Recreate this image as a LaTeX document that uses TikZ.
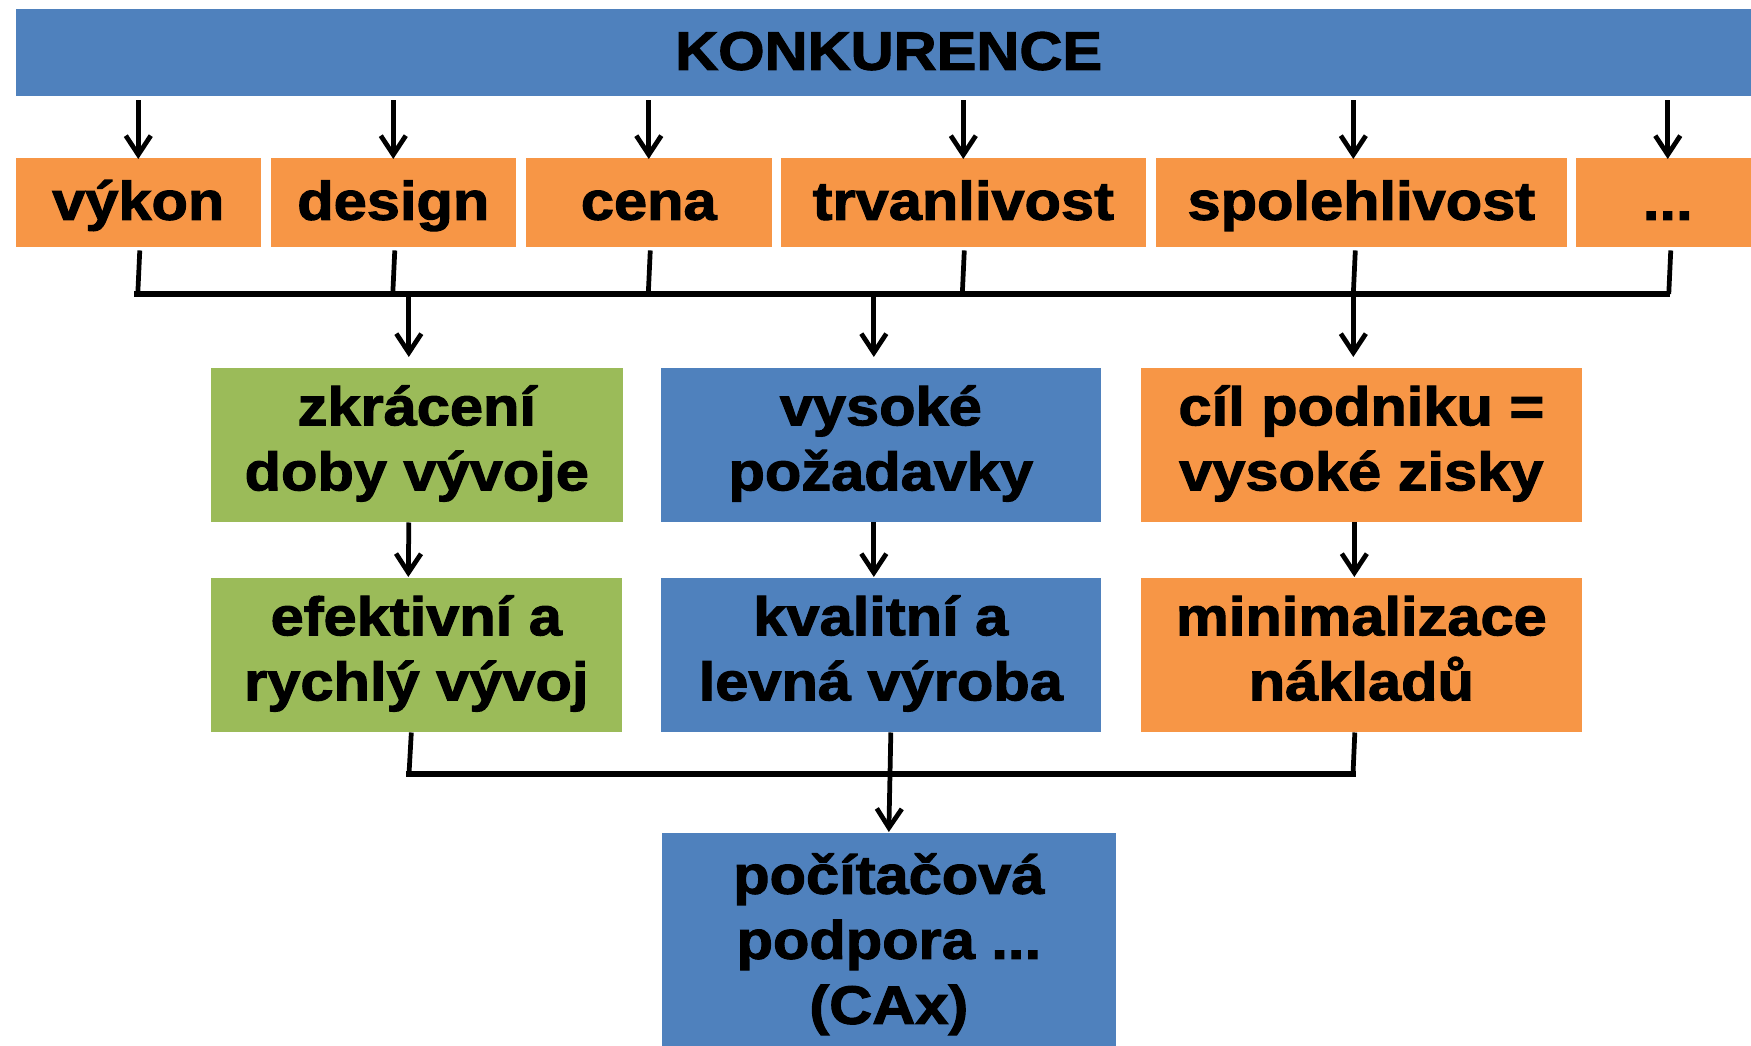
\documentclass[tikz,border=0pt]{standalone}
\usepackage{fontspec}
\setmainfont{Liberation Sans}
\newfontfamily\heavyfont{Liberation Sans Bold}[FakeStretch=1.10,FakeBold=2]
\usetikzlibrary{arrows.meta}
\definecolor{cblue}{HTML}{4F81BD}
\definecolor{corange}{HTML}{F79646}
\definecolor{cgreen}{HTML}{9BBB59}
\begin{document}
\begin{tikzpicture}[x=0.01cm,y=-0.01cm,
  box/.style={anchor=north west,inner sep=0pt,draw=none,align=center,
    font=\heavyfont\fontsize{15.4}{18.5}\selectfont},
  oneline/.style={box,text height=0.45cm,text depth=0.10cm},
  ln/.style={line width=1.35pt,black},
  busln/.style={line width=1.6pt,black},
  arr/.style={ln,-{Straight Barb[length=1.9mm,width=2.5mm,line width=1.35pt]}}]
\useasboundingbox (0,0) rectangle (1751,1046);
% top bar
\node[oneline,fill=cblue,minimum width=17.45cm,minimum height=0.87cm] (konk) at (15,8) {KONKURENCE};
% top row
\node[oneline,fill=corange,minimum width=2.45cm,minimum height=0.89cm] (vykon) at (15,157) {výkon};
\node[oneline,fill=corange,minimum width=2.45cm,minimum height=0.89cm] (design) at (270,157) {design};
\node[oneline,fill=corange,minimum width=2.46cm,minimum height=0.89cm] (cena) at (525,157) {cena};
\node[oneline,fill=corange,minimum width=3.65cm,minimum height=0.89cm] (trvan) at (780,157) {trvanlivost};
\node[oneline,fill=corange,minimum width=4.11cm,minimum height=0.89cm] (spol) at (1155,157) {spolehlivost};
\node[oneline,fill=corange,minimum width=1.84cm,minimum height=0.89cm] (dots) at (1575,157) {...};
% row 1
\node[box,fill=cgreen,minimum width=4.12cm,minimum height=1.54cm] (zkr) at (210,367) {\strut zkrácení\\\strut doby vývoje};
\node[box,fill=cblue,minimum width=4.40cm,minimum height=1.54cm] (vys) at (660,367) {\strut vysoké\\\strut požadavky};
\node[box,fill=corange,minimum width=4.41cm,minimum height=1.54cm] (cil) at (1140,367) {\strut cíl podniku =\\\strut vysoké zisky};
% row 2
\node[box,fill=cgreen,minimum width=4.11cm,minimum height=1.54cm] (efe) at (210,577) {\strut efektivní a\\\strut rychlý vývoj};
\node[box,fill=cblue,minimum width=4.40cm,minimum height=1.54cm] (kva) at (660,577) {\strut kvalitní a\\\strut levná výroba};
\node[box,fill=corange,minimum width=4.41cm,minimum height=1.54cm] (mini) at (1140,577) {\strut minimalizace\\\strut nákladů};
% bottom
\node[box,fill=cblue,minimum width=4.54cm,minimum height=2.26cm] (poc) at (661,832) {\strut počítačová\\\strut podpora ...\\\strut (CAx)};
% arrows from bar to top row
\foreach \n/\dx in {vykon/0,design/0,cena/0,trvan/0,spol/-0.08,dots/0}
  \draw[arr] ([xshift=\dx cm,yshift=-0.04cm]konk.south -| \n.north) -- ([xshift=\dx cm,yshift=-0.02cm]\n.north);
% bus 1
\coordinate (busL) at (137,294);
\coordinate (busR) at (1667,294);
\foreach \n/\dx in {vykon/0.015,design/0.015,cena/0.015,trvan/0.01,spol/-0.06,dots/0.03}
  \draw[ln] ([xshift=\dx cm,yshift=-0.03cm]\n.south) -- ([xshift=\dx cm-0.02cm]\n.south |- busL);
\draw[busln,line cap=rect] (busL) -- (busR);
\draw[arr] ([xshift=-0.08cm]zkr.north |- busL) -- ([xshift=-0.08cm,yshift=0.1cm]zkr.north);
\draw[arr] ([xshift=-0.07cm]vys.north |- busL) -- ([xshift=-0.07cm,yshift=0.1cm]vys.north);
\draw[arr] ([xshift=-0.08cm]cil.north |- busL) -- ([xshift=-0.08cm,yshift=0.1cm]cil.north);
% row1 -> row2
\draw[arr] ([xshift=-0.08cm]zkr.south) -- ([xshift=-0.08cm]efe.north);
\draw[arr] ([xshift=-0.07cm]vys.south) -- ([xshift=-0.07cm]kva.north);
\draw[arr] ([xshift=-0.07cm]cil.south) -- ([xshift=-0.07cm]mini.north);
% bus 2
\coordinate (bL) at (409,774);
\coordinate (bR) at (1353,774);
\draw[ln] ([xshift=-0.05cm]efe.south) -- (bL);
\draw[ln] ([xshift=-0.065cm]mini.south) -- (bR);
\draw[busln,line cap=rect] (bL) -- (bR);
\draw[arr] ([xshift=0.10cm]kva.south) -- (poc.north);
\end{tikzpicture}
\end{document}
